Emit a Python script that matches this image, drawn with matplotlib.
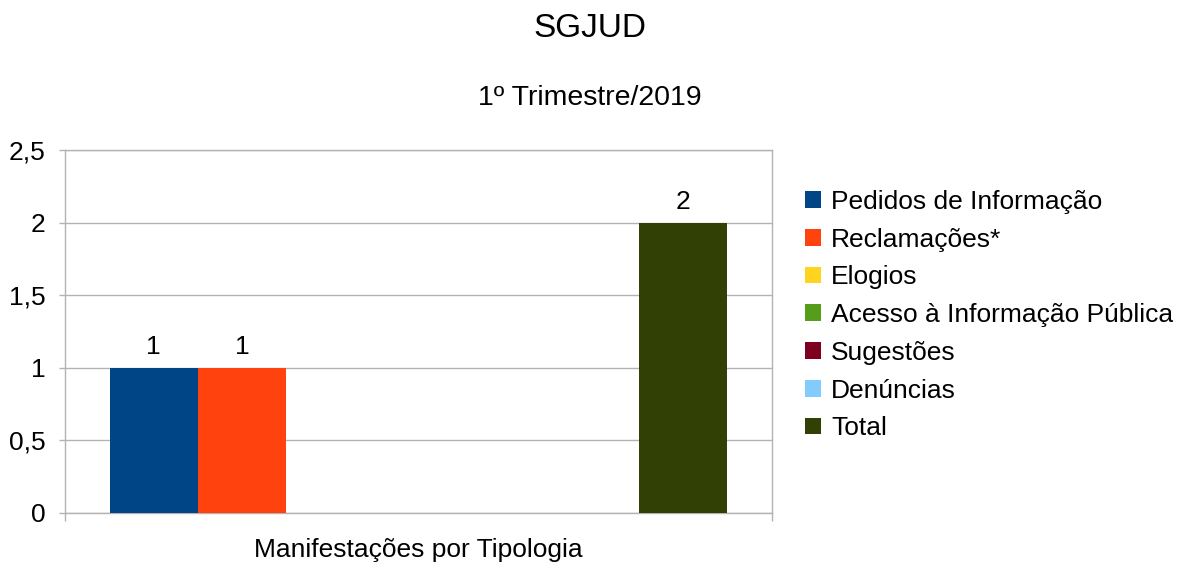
import numpy as np
import matplotlib.pyplot as plt
from matplotlib.ticker import FuncFormatter

plt.rcParams['font.family'] = ['Liberation Sans', 'DejaVu Sans']

# Data
title = 'SGJUD'
subtitle = '1º Trimestre/2019'
category = 'Manifestações por Tipologia'
series = ['Pedidos de Informação', 'Reclamações*', 'Elogios',
          'Acesso à Informação Pública', 'Sugestões', 'Denúncias', 'Total']
values = [1, 1, np.nan, np.nan, np.nan, np.nan, 2]
colours = ['#004586', '#ff420e', '#ffd320', '#579d1c', '#7e0021', '#83caff', '#314004']
yticks = [0, 0.5, 1, 1.5, 2, 2.5]

grid_col = '#b3b3b3'

fig = plt.figure(figsize=(11.8, 5.62), dpi=100)
ax = fig.add_axes([0.0551, 0.0872, 0.5991, 0.6459])

group_w = 0.874
w = group_w / len(series)
handles = []
for i, (name, val, col) in enumerate(zip(series, values, colours)):
    h = ax.bar((i - (len(series) - 1) / 2) * w, 0 if np.isnan(val) else val,
               width=w, color=col, label=name, zorder=3)
    handles.append(h)
    if not np.isnan(val):
        ax.bar_label(h, labels=[f'{val:g}'], padding=6, fontsize=19)

ax.set_xlim(-0.5, 0.5)
ax.set_ylim(0, 2.5)
ax.set_yticks(yticks)
ax.yaxis.set_major_formatter(FuncFormatter(lambda v, p: f'{v:g}'.replace('.', ',')))
ax.grid(axis='y', color=grid_col, linewidth=1, zorder=0)

ax.set_xticks([0])
ax.set_xticklabels([category])
ax.set_xticks([-0.5, 0.5], minor=True)
ax.tick_params(axis='x', which='major', length=0, labelsize=19, pad=18)
ax.tick_params(axis='x', which='minor', length=6, color=grid_col, width=1)
ax.tick_params(axis='y', length=4, color=grid_col, width=1, labelsize=19, pad=10)
for s in ax.spines.values():
    s.set_color(grid_col)
    s.set_linewidth(1)

fig.text(0.5, 0.949, title, ha='center', va='center', fontsize=24)
fig.text(0.5, 0.825, subtitle, ha='center', va='center', fontsize=20.5)

fig.legend(handles=handles, loc='upper left', bbox_to_anchor=(0.682, 0.662),
           frameon=False, fontsize=19, handlelength=0.6, handleheight=0.6,
           handletextpad=0.4, labelspacing=0.52, borderaxespad=0, borderpad=0)

fig.savefig('out.png', dpi=100)
